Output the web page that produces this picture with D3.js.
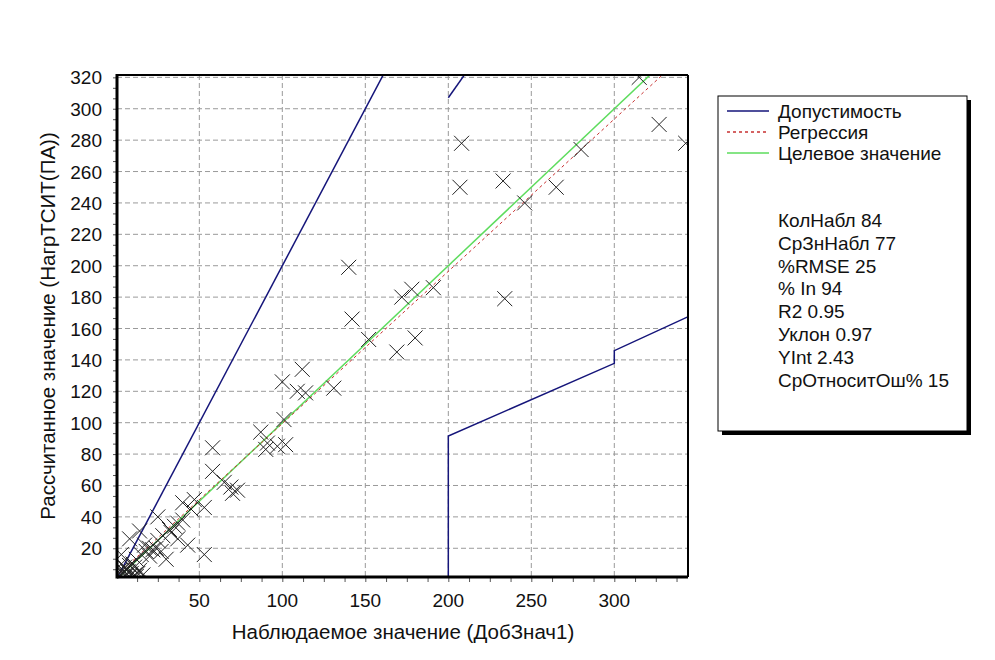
<!DOCTYPE html>
<html lang="ru">
<head>
<meta charset="utf-8">
<title>Наблюдаемое vs Рассчитанное</title>
<script src="https://d3js.org/d3.v7.min.js"></script>
<style>
  body { margin: 0; background: #fff; }
  text { font-family: "Liberation Sans", Arial, sans-serif; fill: #111; }
</style>
</head>
<body>
<div id="chart"></div>
<script>
const obsX = [315, 327, 343, 208, 207, 233, 265, 280, 246, 191, 234,
  140, 142, 152, 169, 180, 172, 178, 131,
  112, 100, 109, 114, 101, 87, 91, 102, 90, 97, 58, 58, 65, 69, 73, 70, 47, 53, 40,
  25, 37, 32, 14, 37, 8, 43, 17, 53, 3, 30, 22, 11,
  45, 35, 28, 25, 20, 18, 15, 12, 10, 8, 6, 5, 4, 3, 2, 4, 6, 7, 9, 11, 13, 14, 16, 12, 8, 5, 3, 2, 20, 24, 27, 33, 40];
const calcY = [320, 290, 278, 278, 250, 254, 250, 274, 240, 186, 179,
  199, 166, 153, 145, 154, 180, 185, 122,
  134, 126, 120, 119, 102, 94, 87, 86, 83, 85, 84, 69, 62, 59, 57, 55, 51, 46, 49,
  40, 36, 32, 31, 26, 26, 22, 22, 16, 16, 13, 19, 8,
  45, 34, 28, 25, 20, 18, 16, 13, 10, 9, 7, 5, 4, 3, 2, 6, 3, 5, 4, 3, 4, 6, 3, 2, 2, 8, 10, 6, 15, 20, 18, 30, 38];

// tolerance band (Допустимость) polylines
const tolUpper1 = [[0, 0], [170, 340]];
const tolUpper2 = [[200, 307], [220, 337]];
const tolLower = [[0, 0], [200, 0], [200, 91.5], [300, 137.8], [300, 145.9], [345, 167.8]];

// regression stats
const regSlope = 0.97;
const regInt = 2.43;

const xTicks = [50, 100, 150, 200, 250, 300];
const yTicks = [20, 40, 60, 80, 100, 120, 140, 160, 180, 200, 220, 240, 260, 280, 300, 320];

const legendItems = ["Допустимость", "Регрессия", "Целевое значение"];
const statLines = ["КолНабл 84", "СрЗнНабл 77", "%RMSE 25", "% In 94", "R2 0.95",
  "Уклон 0.97", "YInt 2.43", "СрОтноситОш% 15"];

const width = 995, height = 660;
const margin = { top: 75, right: 307, bottom: 83, left: 117 };

const svg = d3.select("#chart").append("svg")
  .attr("width", width)
  .attr("height", height);

const x = d3.scaleLinear().domain([0.4, 344.4]).range([margin.left, width - margin.right]);
const y = d3.scaleLinear().domain([1.7, 321.5]).range([height - margin.bottom, margin.top]);
const [x0, x1] = x.range();
const [y0, y1] = y.range();

svg.append("clipPath").attr("id", "clip")
  .append("rect")
  .attr("x", x0).attr("y", y1)
  .attr("width", x1 - x0).attr("height", y0 - y1);

// grid
const grid = svg.append("g");
grid.selectAll(".gx").data(xTicks).enter().append("line")
  .attr("x1", d => x(d)).attr("x2", d => x(d))
  .attr("y1", y1).attr("y2", y0)
  .attr("stroke", "#9a9a9a").attr("stroke-dasharray", "5,3");
grid.selectAll(".gy").data(yTicks).enter().append("line")
  .attr("x1", x0).attr("x2", x1)
  .attr("y1", d => y(d)).attr("y2", d => y(d))
  .attr("stroke", "#9a9a9a").attr("stroke-dasharray", "5,3");

// minor ticks + labels
const xMinor = d3.range(12.5, 345, 12.5);
const yMinor = d3.range(20 / 3, 322, 20 / 3);

svg.append("g")
  .attr("transform", `translate(0,${y0})`)
  .call(d3.axisBottom(x).tickValues(xMinor).tickSize(5).tickFormat(""))
  .call(g => g.select(".domain").remove())
  .call(g => g.selectAll("line").attr("stroke", "#555"));

svg.append("g")
  .attr("transform", `translate(${x0},0)`)
  .call(d3.axisLeft(y).tickValues(yMinor).tickSize(4).tickFormat(""))
  .call(g => g.select(".domain").remove())
  .call(g => g.selectAll("line").attr("stroke", "#555"));

svg.append("g").selectAll("text").data(xTicks).enter().append("text")
  .attr("x", d => x(d)).attr("y", y0 + 30)
  .attr("text-anchor", "middle")
  .style("font-size", "19px")
  .text(d => d);

svg.append("g").selectAll("text").data(yTicks).enter().append("text")
  .attr("x", x0 - 15).attr("y", d => y(d) + 7)
  .attr("text-anchor", "end")
  .style("font-size", "19px")
  .text(d => d);

// lines
const plot = svg.append("g").attr("clip-path", "url(#clip)");
const line = d3.line().x(d => x(d[0])).y(d => y(d[1]));
const navy = "#15157a";

[tolUpper1, tolUpper2, tolLower].forEach(seg => {
  plot.append("path").datum(seg)
    .attr("fill", "none").attr("stroke", navy).attr("stroke-width", 1.5)
    .attr("d", line);
});

const xExt = d3.extent(obsX);
plot.append("path")
  .datum([[0, 0], [345, 345]])
  .attr("fill", "none").attr("stroke", "#5ddc5d").attr("stroke-width", 1.5)
  .attr("d", line);

plot.append("path")
  .datum(xExt.map(v => [v, regSlope * v + regInt]))
  .attr("fill", "none").attr("stroke", "#c83030").attr("stroke-width", 1)
  .attr("stroke-dasharray", "3,3")
  .attr("d", line);

// X markers
const s = 7.5;
plot.selectAll(".pt").data(obsX.map((v, i) => [v, calcY[i]])).enter()
  .append("path")
  .attr("class", "pt")
  .attr("d", d => {
    const px = x(d[0]), py = y(d[1]);
    return `M${px - s},${py - s}L${px + s},${py + s}M${px - s},${py + s}L${px + s},${py - s}`;
  })
  .attr("stroke", "#222").attr("stroke-width", 1).attr("fill", "none");

// frame
svg.append("line").attr("x1", x0).attr("x2", x1).attr("y1", y1).attr("y2", y1)
  .attr("stroke", "#000").attr("stroke-width", 2);
svg.append("line").attr("x1", x1).attr("x2", x1).attr("y1", y1).attr("y2", y0)
  .attr("stroke", "#000").attr("stroke-width", 2);
svg.append("line").attr("x1", x0).attr("x2", x1).attr("y1", y0).attr("y2", y0)
  .attr("stroke", "#000").attr("stroke-width", 3);
svg.append("line").attr("x1", x0).attr("x2", x0).attr("y1", y1 - 1).attr("y2", y0 + 1.5)
  .attr("stroke", "#000").attr("stroke-width", 3);

// axis titles
svg.append("text")
  .attr("x", 403).attr("y", 639)
  .attr("text-anchor", "middle")
  .style("font-size", "20.5px")
  .text("Наблюдаемое значение (ДобЗнач1)");

svg.append("text")
  .attr("transform", `translate(55,${(y0 + y1) / 2}) rotate(-90)`)
  .attr("text-anchor", "middle")
  .style("font-size", "20.5px")
  .text("Рассчитанное значение (НагрТСИТ(ПА))");

// legend
const legend = svg.append("g").attr("transform", "translate(718,96)");
legend.append("rect").attr("x", 4).attr("y", 4).attr("width", 249).attr("height", 335)
  .attr("fill", "#000");
legend.append("rect").attr("x", 0).attr("y", 0).attr("width", 249).attr("height", 335)
  .attr("fill", "#fff").attr("stroke", "#000").attr("stroke-width", 1);

const legendStyles = [
  { stroke: navy, dash: null },
  { stroke: "#c83030", dash: "3,3" },
  { stroke: "#5ddc5d", dash: null }
];
legendItems.forEach((name, i) => {
  const ly = 15 + i * 21;
  legend.append("line")
    .attr("x1", 9).attr("x2", 51).attr("y1", ly).attr("y2", ly)
    .attr("stroke", legendStyles[i].stroke)
    .attr("stroke-width", 1.5)
    .attr("stroke-dasharray", legendStyles[i].dash);
  legend.append("text").attr("x", 60).attr("y", ly + 7)
    .style("font-size", "19px").text(name);
});

statLines.forEach((t, i) => {
  legend.append("text").attr("x", 60).attr("y", 131 + i * 22.8)
    .style("font-size", "19px").text(t);
});
</script>
</body>
</html>
